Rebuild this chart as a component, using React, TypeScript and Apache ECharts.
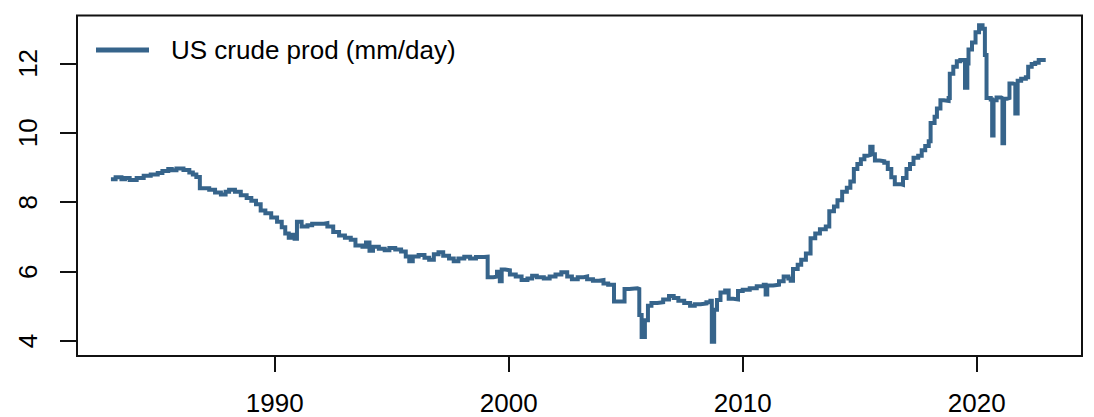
import React, { useEffect, useRef } from "react";
import * as echarts from "echarts";

const seriesName = "US crude prod (mm/day)";

const years: number[] = [
  1983.0, 1983.2, 1983.45, 1983.6, 1983.8, 1984.1, 1984.4, 1984.7, 1985.0, 1985.2,
  1985.45, 1985.6, 1985.8, 1986.1, 1986.35, 1986.5, 1986.65, 1986.8, 1987.2, 1987.45,
  1987.7, 1987.9, 1988.05, 1988.3, 1988.55, 1988.8, 1989.0, 1989.2, 1989.4, 1989.6,
  1989.85, 1990.1, 1990.3, 1990.45, 1990.6, 1990.75, 1990.85, 1990.95, 1991.15, 1991.4,
  1991.6, 1991.85, 1992.1, 1992.25, 1992.5, 1992.75, 1993.0, 1993.25, 1993.45, 1993.75,
  1993.9, 1994.05, 1994.2, 1994.45, 1994.7, 1994.9, 1995.15, 1995.4, 1995.6, 1995.75,
  1995.9, 1996.15, 1996.4, 1996.6, 1996.8, 1997.0, 1997.2, 1997.45, 1997.65, 1997.85,
  1998.1, 1998.35, 1998.6, 1998.95, 1999.1, 1999.35, 1999.5, 1999.62, 1999.7, 1999.85,
  2000.05, 2000.3, 2000.55, 2000.8, 2001.0, 2001.2, 2001.5, 2001.75, 2002.0, 2002.25,
  2002.5, 2002.7, 2002.95, 2003.2, 2003.35, 2003.6, 2003.85, 2004.05, 2004.25, 2004.5,
  2004.75, 2004.95, 2005.15, 2005.5, 2005.58, 2005.68, 2005.82, 2005.95, 2006.1, 2006.35,
  2006.6, 2006.85, 2007.05, 2007.25, 2007.5, 2007.75, 2007.95, 2008.2, 2008.45, 2008.62,
  2008.68, 2008.78, 2008.9, 2009.05, 2009.25, 2009.4, 2009.6, 2009.8, 2010.0, 2010.3,
  2010.6, 2010.9, 2010.98, 2011.05, 2011.3, 2011.55, 2011.75, 2011.95, 2012.05, 2012.15,
  2012.35, 2012.5, 2012.7, 2012.9, 2013.1, 2013.3, 2013.55, 2013.7, 2013.9, 2014.05,
  2014.25, 2014.45, 2014.6, 2014.75, 2014.9, 2015.05, 2015.2, 2015.35, 2015.45, 2015.55,
  2015.65, 2015.85, 2016.05, 2016.2, 2016.35, 2016.5, 2016.75, 2016.85, 2017.0, 2017.15,
  2017.3, 2017.5, 2017.65, 2017.8, 2017.95, 2018.03, 2018.2, 2018.3, 2018.45, 2018.6,
  2018.8, 2018.85, 2019.0, 2019.15, 2019.3, 2019.5, 2019.6, 2019.65, 2019.8, 2019.95,
  2020.1, 2020.25, 2020.35, 2020.42, 2020.6, 2020.66, 2020.72, 2020.85, 2021.05, 2021.1,
  2021.17, 2021.3, 2021.4, 2021.55, 2021.65, 2021.75, 2021.9, 2022.1, 2022.2, 2022.35,
  2022.5, 2022.65, 2022.95,
];

const production: number[] = [
  8.66, 8.72, 8.66, 8.7, 8.64, 8.7, 8.76, 8.8, 8.84, 8.9,
  8.96, 8.92, 8.97, 8.93, 8.86, 8.8, 8.73, 8.4, 8.36, 8.28,
  8.22, 8.3, 8.36, 8.3, 8.2, 8.12, 8.04, 7.94, 7.76, 7.68,
  7.56, 7.44, 7.28, 7.1, 6.98, 7.06, 6.95, 7.44, 7.3, 7.34,
  7.38, 7.38, 7.4, 7.3, 7.14, 7.04, 6.98, 6.92, 6.75, 6.72,
  6.84, 6.6, 6.72, 6.66, 6.62, 6.68, 6.64, 6.58, 6.44, 6.3,
  6.44, 6.48, 6.4, 6.34, 6.5, 6.56, 6.46, 6.38, 6.3, 6.38,
  6.43, 6.38, 6.42, 6.43, 5.84, 5.86, 6.0, 5.72, 6.06, 6.04,
  5.92, 5.86, 5.76, 5.8, 5.88, 5.84, 5.8, 5.86, 5.92, 5.98,
  5.86, 5.78, 5.84, 5.86, 5.78, 5.74, 5.76, 5.66, 5.62, 5.14,
  5.14, 5.5, 5.52, 5.5, 4.75, 4.12, 4.6, 5.02, 5.1, 5.12,
  5.2, 5.3, 5.24, 5.16, 5.1, 5.02, 5.06, 5.08, 5.12, 5.16,
  3.98, 4.9, 5.18, 5.4, 5.46, 5.22, 5.2, 5.44, 5.48, 5.52,
  5.58, 5.62, 5.34, 5.6, 5.62, 5.72, 5.86, 5.8, 5.74, 6.08,
  6.2, 6.34, 6.52, 6.96, 7.1, 7.22, 7.3, 7.74, 7.88, 8.06,
  8.3, 8.42, 8.6, 8.96, 9.1, 9.24, 9.34, 9.36, 9.6, 9.38,
  9.2, 9.18, 9.14, 8.96, 8.72, 8.52, 8.5, 8.7, 8.96, 9.1,
  9.28, 9.34, 9.5, 9.62, 9.76, 10.28, 10.46, 10.7, 10.94, 10.92,
  11.0, 11.7, 11.9, 12.06, 12.1, 11.3, 12.0, 12.4, 12.6, 12.9,
  13.1, 13.0, 12.24, 11.0, 10.96, 9.92, 10.94, 11.02, 11.0, 9.7,
  10.98, 11.0, 11.42, 11.4, 10.56, 11.5, 11.56, 11.6, 11.9, 11.98,
  12.02, 12.1, 12.1,
];

const xTickValues: number[] = [1990, 2000, 2010, 2020];
const yTickValues: number[] = [4, 6, 8, 10, 12];

const FONT = "'Liberation Sans', Arial, sans-serif";
const LINE_COLOR = "#36648B";

export default function App() {
  const ref = useRef<HTMLDivElement>(null);

  useEffect(() => {
    if (!ref.current) return;
    const chart = echarts.init(ref.current, undefined, { renderer: "svg" });
    const data = years.map((y, i) => [y, production[i]]);
    chart.setOption({
      animation: false,
      backgroundColor: "#ffffff",
      textStyle: { fontFamily: FONT },
      grid: {
        left: 77,
        right: 12,
        top: 15.5,
        bottom: 61,
        show: true,
        borderColor: "#111",
        borderWidth: 2,
        backgroundColor: "transparent",
      },
      legend: {
        left: 91,
        top: 32,
        itemWidth: 53,
        itemHeight: 5,
        data: [{ name: seriesName, icon: "rect" }],
        textStyle: {
          fontFamily: FONT,
          fontSize: 26,
          color: "#000",
          padding: [0, 0, 0, 17],
        },
      },
      xAxis: {
        type: "value",
        min: 1981.55,
        max: 2024.5,
        axisLine: { show: false },
        splitLine: { show: false },
        axisTick: {
          show: true,
          length: 16,
          customValues: xTickValues,
          lineStyle: { color: "#111", width: 2 },
        },
        axisLabel: {
          show: true,
          customValues: xTickValues,
          margin: 34,
          fontSize: 26,
          fontFamily: FONT,
          color: "#000",
          formatter: (v: number) => String(Math.round(v)),
        },
      },
      yAxis: {
        type: "value",
        min: 3.57,
        max: 13.38,
        axisLine: { show: false },
        splitLine: { show: false },
        axisTick: {
          show: true,
          length: 17,
          customValues: yTickValues,
          lineStyle: { color: "#111", width: 2 },
        },
        axisLabel: {
          show: true,
          customValues: yTickValues,
          rotate: 90,
          margin: 36,
          fontSize: 26,
          fontFamily: FONT,
          color: "#000",
          formatter: (v: number) => String(Math.round(v)),
        },
      },
      series: [
        {
          name: seriesName,
          type: "line",
          step: "end",
          data,
          symbol: "none",
          showSymbol: false,
          color: LINE_COLOR,
          lineStyle: { color: LINE_COLOR, width: 4, join: "miter" },
        },
      ],
    });
    return () => chart.dispose();
  }, []);

  return (
    <div
      ref={ref}
      style={{ position: "fixed", left: 0, top: 0, width: 1094, height: 417, background: "#fff" }}
    />
  );
}
